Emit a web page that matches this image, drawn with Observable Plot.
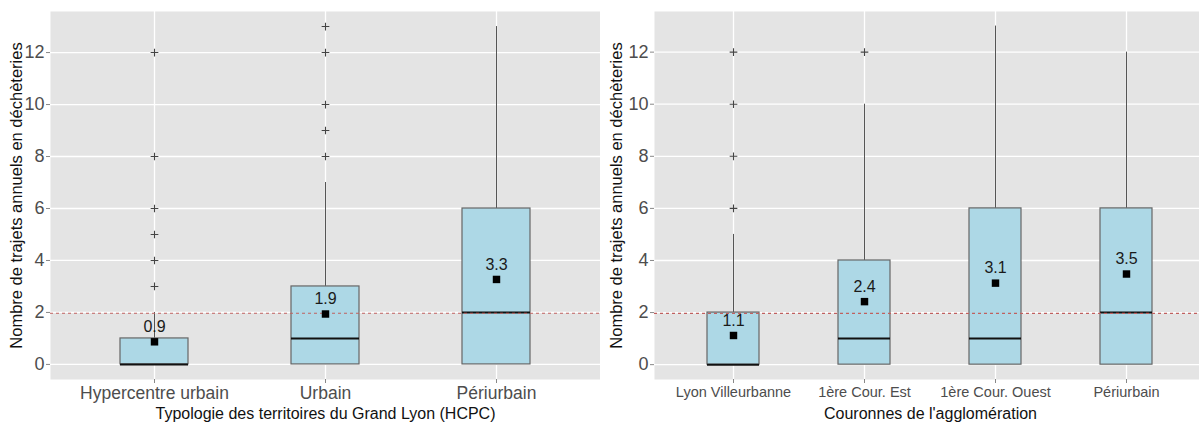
<!DOCTYPE html>
<html>
<head>
<meta charset="utf-8">
<script src="https://cdn.jsdelivr.net/npm/d3@7"></script>
<script src="https://cdn.jsdelivr.net/npm/@observablehq/plot@0.6"></script>
<style>
  html, body { margin: 0; padding: 0; background: #fff; }
  #wrap { display: flex; width: 1199px; height: 423px; overflow: hidden; }
  #left { width: 600px; height: 423px; overflow: hidden; }
  #right { width: 599px; height: 423px; overflow: hidden; }
  svg { max-width: none !important; display: block; }
</style>
</head>
<body>
<div id="wrap"><div id="left"></div><div id="right"></div></div>
<script>
// ---- Left panel data: Typologie des territoires du Grand Lyon (HCPC)
const leftCats = ["Hypercentre urbain", "Urbain", "Périurbain"];
const leftQ1 = [0, 0, 0];
const leftMedian = [0, 1, 2];
const leftQ3 = [1, 3, 6];
const leftWhiskerHigh = [2, 7, 13];
const leftMean = [0.87, 1.94, 3.27];
const leftMeanLabel = ["0.9", "1.9", "3.3"];
const leftOutliers = [[3, 4, 5, 6, 8, 12], [8, 9, 10, 12, 13], []];

// ---- Right panel data: Couronnes de l'agglomération
const rightCats = ["Lyon Villeurbanne", "1ère Cour. Est", "1ère Cour. Ouest", "Périurbain"];
const rightQ1 = [0, 0, 0, 0];
const rightMedian = [0, 1, 1, 2];
const rightQ3 = [2, 4, 6, 6];
const rightWhiskerHigh = [5, 10, 13, 12];
const rightMean = [1.12, 2.42, 3.13, 3.48];
const rightMeanLabel = ["1.1", "2.4", "3.1", "3.5"];
const rightOutliers = [[6, 8, 10, 12], [12], [], []];

const refLine = 1.97;
const yTicks = [0, 2, 4, 6, 8, 10, 12];
const yTitle = "Nombre de trajets annuels en déchèteries";
const leftXTitle = "Typologie des territoires du Grand Lyon (HCPC)";
const rightXTitle = "Couronnes de l'agglomération";

function panel({cats, q1, med, q3, wh, mean, meanLabel, outliers, xTitle, width, marginLeft, yDomain, xFont}) {
  const boxes = cats.map((c, i) => ({cat: c, q1: q1[i], med: med[i], q3: q3[i], wh: wh[i], mean: mean[i], label: meanLabel[i]}));
  const outs = cats.flatMap((c, i) => outliers[i].map(v => ({cat: c, v})));
  return Plot.plot({
    width, height: 423,
    marginLeft, marginRight: 0, marginTop: 11, marginBottom: 44,
    style: {fontFamily: "Liberation Sans, Arial, sans-serif", background: "transparent"},
    x: {type: "band", domain: cats, paddingInner: 0.6, paddingOuter: 0.4, label: null},
    y: {domain: yDomain, label: null},
    marks: [
      Plot.frame({fill: "#E4E4E4", stroke: null}),
      Plot.gridY(yTicks, {stroke: "#fff", strokeOpacity: 1, strokeWidth: 1.3}),
      Plot.ruleX(cats, {x: d => d, stroke: "#fff", strokeWidth: 1.3}),
      Plot.ruleX(boxes, {x: "cat", y1: "q3", y2: "wh", stroke: "#555", strokeWidth: 1}),
      Plot.barY(boxes, {x: "cat", y1: "q1", y2: "q3", fill: "#ADD8E6", stroke: "#666", strokeWidth: 1.2, inset: 0}),
      Plot.tickY(boxes, {x: "cat", y: "med", stroke: "#111", strokeWidth: 2}),
      Plot.ruleY([refLine], {stroke: "#C0605F", strokeWidth: 1.1, strokeDasharray: "3,3"}),
      Plot.dot(outs, {x: "cat", y: "v", symbol: "plus", r: 2.6, stroke: "#444", strokeWidth: 1.1}),
      Plot.dot(boxes, {x: "cat", y: "mean", symbol: "square", r: 4.2, fill: "#000", stroke: null}),
      Plot.text(boxes, {x: "cat", y: "mean", text: "label", dy: -15, fontSize: 16, fill: "#1a1a1a"}),
      Plot.axisY(yTicks, {tickSize: 4, tickPadding: 2, fontSize: 18, color: "#4D4D4D", stroke: "#888", label: null}),
      Plot.axisX({tickSize: 4, tickPadding: 3, fontSize: xFont, color: "#4D4D4D", stroke: "#888", label: null}),
      Plot.text([xTitle], {frameAnchor: "bottom", dy: 34, lineAnchor: "middle", textAnchor: "middle", fontSize: 16, fill: "#111"}),
      Plot.text([yTitle], {frameAnchor: "left", rotate: -90, dx: -marginLeft + 16, textAnchor: "middle", lineAnchor: "middle", fontSize: 16.5, fill: "#111"})
    ]
  });
}

const leftPlot = panel({
  cats: leftCats, q1: leftQ1, med: leftMedian, q3: leftQ3, wh: leftWhiskerHigh,
  mean: leftMean, meanLabel: leftMeanLabel, outliers: leftOutliers,
  xTitle: leftXTitle, width: 600, marginLeft: 50, yDomain: [-0.58, 13.58], xFont: 17.5
});
document.getElementById("left").appendChild(leftPlot);

const rightPlot = panel({
  cats: rightCats, q1: rightQ1, med: rightMedian, q3: rightQ3, wh: rightWhiskerHigh,
  mean: rightMean, meanLabel: rightMeanLabel, outliers: rightOutliers,
  xTitle: rightXTitle, width: 606, marginLeft: 54, yDomain: [-0.57, 13.56], xFont: 14.5
});
document.getElementById("right").appendChild(rightPlot);
</script>
</body>
</html>
